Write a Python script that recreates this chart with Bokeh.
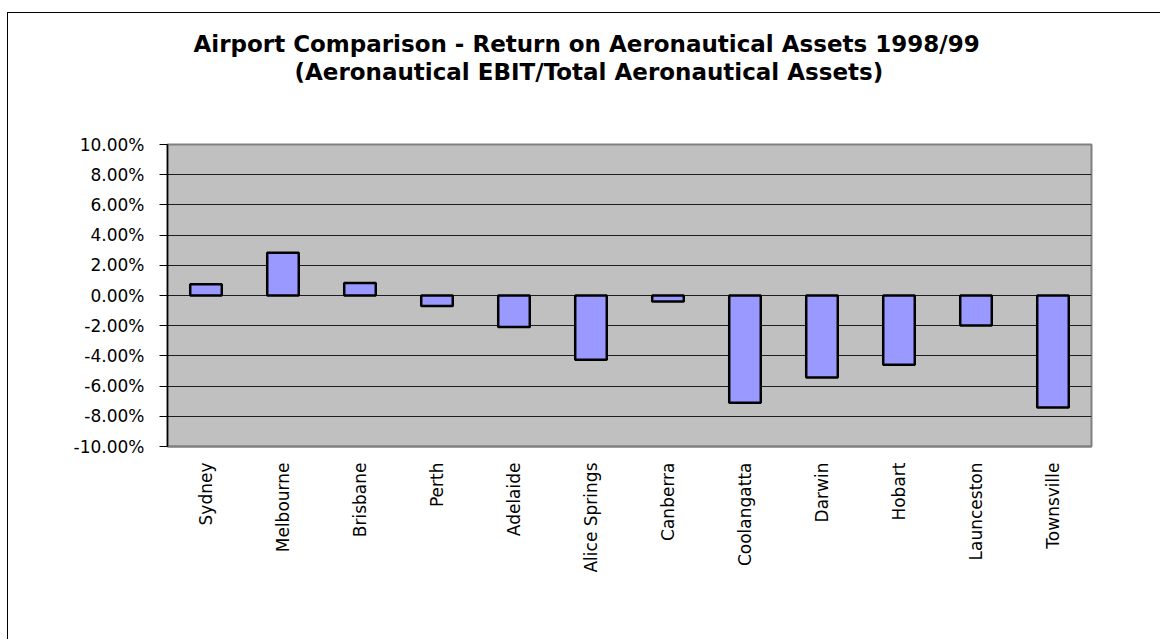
import math
from bokeh.plotting import figure
from bokeh.models import (FactorRange, Range1d, FixedTicker, NumeralTickFormatter,
                          Title, ColumnDataSource, CategoricalAxis)
from bokeh.embed import file_html
from bokeh.resources import INLINE

# ---- data ----
airports = ["Sydney", "Melbourne", "Brisbane", "Perth", "Adelaide", "Alice Springs",
            "Canberra", "Coolangatta", "Darwin", "Hobart", "Launceston", "Townsville"]
return_pct = [0.75, 2.83, 0.82, -0.70, -2.09, -4.26, -0.40, -7.11, -5.43, -4.59, -1.99, -7.42]
y_ticks_pct = [-10, -8, -6, -4, -2, 0, 2, 4, 6, 8, 10]
title_line1 = "Airport Comparison -  Return on Aeronautical Assets 1998/99"
title_line2 = "(Aeronautical EBIT/Total Aeronautical Assets)"

returns = [v / 100.0 for v in return_pct]
y_ticks = [v / 100.0 for v in y_ticks_pct]
source = ColumnDataSource(data=dict(airport=airports, ret=returns))

W, H = 1153, 627
p = figure(width=W, height=H, output_backend="svg", toolbar_location=None,
           x_range=FactorRange(*airports, range_padding=0),
           y_range=Range1d(-0.10, 0.10),
           min_border_left=159, min_border_right=70, min_border_top=131, min_border_bottom=194)
p.margin = (12, 0, 0, 7)
p.styles = {"border-top": "1px solid black", "border-left": "1px solid black"}
p.background_fill_color = "#C0C0C0"
p.border_fill_color = "white"
p.outline_line_color = "#808080"
p.outline_line_width = 2

p.vbar(x="airport", top="ret", bottom=0, width=0.41, source=source,
       fill_color="#9999FF", line_color="black", line_width=2.5)

# grid
p.xgrid.grid_line_color = None
p.ygrid.ticker = FixedTicker(ticks=y_ticks)
p.ygrid.grid_line_color = "black"
p.ygrid.grid_line_width = 1
p.ygrid.grid_line_alpha = 0.85

# y axis
p.yaxis.ticker = FixedTicker(ticks=y_ticks)
p.yaxis.formatter = NumeralTickFormatter(format="0.00%")
p.yaxis.major_label_text_font = "DejaVu Sans"
p.yaxis.major_label_text_font_size = "17px"
p.yaxis.major_label_text_color = "black"
p.yaxis.major_tick_out = 8
p.yaxis.major_tick_in = 0
p.yaxis.minor_tick_line_color = None
p.yaxis.axis_line_color = "black"
p.yaxis.axis_line_width = 1.5
p.yaxis.major_tick_line_color = "black"
p.yaxis.major_label_standoff = 15

# x axis
p.xaxis.major_label_orientation = math.pi / 2
p.xaxis.major_label_text_font = "DejaVu Sans"
p.xaxis.major_label_text_font_size = "17px"
p.xaxis.major_label_text_color = "black"
p.xaxis.major_tick_line_color = None
p.xaxis.major_tick_out = 0
p.xaxis.major_tick_in = 0
p.xaxis.axis_line_color = "#808080"
p.xaxis.axis_line_width = 2
p.xaxis.major_label_standoff = 16

# invisible spacer between the title and the plot area
spacer = CategoricalAxis(axis_line_color=None, major_tick_line_color=None,
                         minor_tick_line_color=None, major_label_text_color=None,
                         major_label_text_font_size="1px",
                         major_tick_out=60, major_tick_in=0, major_label_standoff=0)
p.add_layout(spacer, "above")

# title (two centred lines); first added sits nearest the plot area
for txt, off in [(title_line2, 127), (title_line1, 26)]:
    p.add_layout(Title(text=txt, align="left", offset=off,
                       text_font="DejaVu Sans", text_font_style="bold",
                       text_font_size="23px", text_color="black", standoff=0), "above")

open("out.html", "w").write(file_html(p, INLINE))
